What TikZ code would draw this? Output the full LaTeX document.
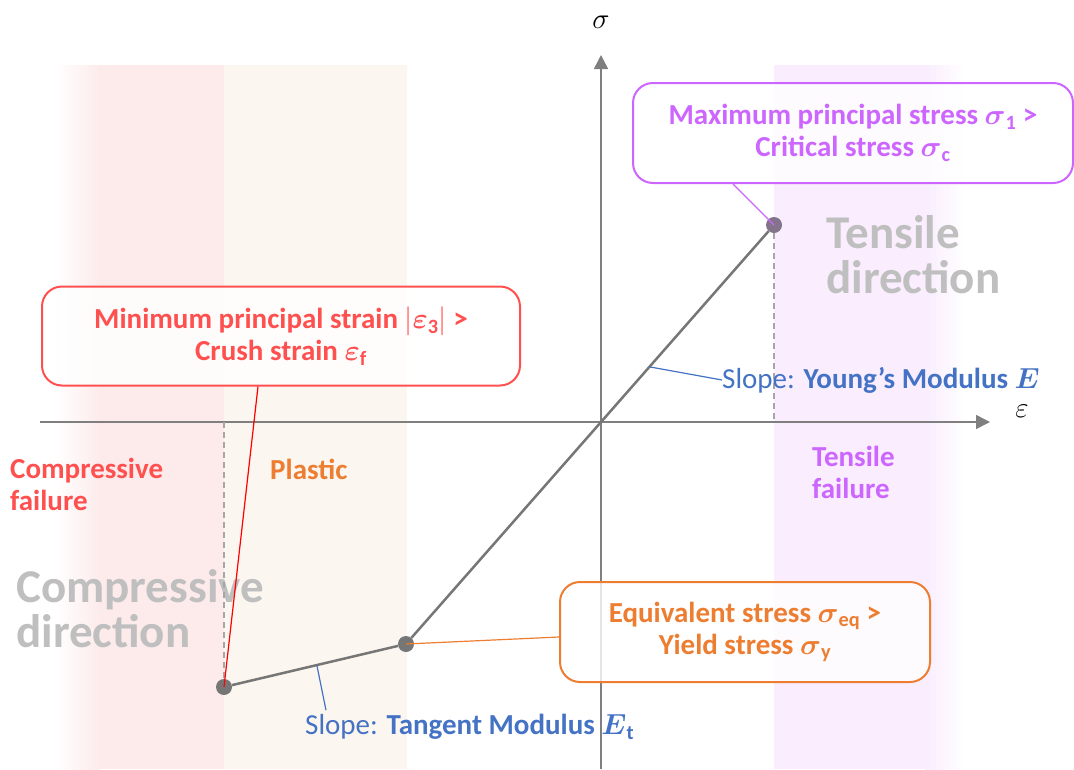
\RequirePackage{fix-cm}
\documentclass[tikz,border=0pt]{standalone}
\usepackage{amsmath}
\usepackage{fontspec}
\setmainfont{Carlito}
\usetikzlibrary{arrows.meta,positioning,calc}
\definecolor{failred}{RGB}{255,80,80}
\definecolor{yieldorange}{RGB}{237,125,49}
\definecolor{tensviolet}{RGB}{204,102,255}
\definecolor{slopeblue}{RGB}{68,114,196}
\definecolor{taggray}{RGB}{191,191,191}
\definecolor{dashgray}{RGB}{166,166,166}
\definecolor{axisgray}{RGB}{127,127,127}
\definecolor{curvegray}{RGB}{118,118,118}
\definecolor{compzone}{RGB}{253,235,235}
\definecolor{plastzone}{RGB}{251,246,240}
\definecolor{tenszone}{RGB}{249,237,254}
\tikzset{node font={\fontsize{29}{32}\selectfont}}
\tikzset{every node/.append style={transform shape=false}}

\begin{document}
\begin{tikzpicture}[x=1pt,y=-1pt,
  callout/.style={draw,line width=2pt,rounded corners=20pt,fill=white,
    fill opacity=.8,text opacity=1,align=center,font=\bfseries,inner sep=0pt},
  dot/.style={circle,fill=curvegray,inner sep=0pt,minimum size=16pt},
  axis/.style={draw=axisgray,line width=1.5pt,-{Triangle[width=14pt,length=14pt]}},
  limit/.style={draw=dashgray,line width=2pt,dash pattern=on 6pt off 4pt},
  zonetag/.style={font=\bfseries,align=left,anchor=west,inner sep=0pt},
  bigtag/.style={text=taggray,font=\fontsize{47}{45}\selectfont\bfseries,
    align=left,anchor=west,inner sep=0pt},
  slopetag/.style={text=slopeblue,anchor=west,inner sep=0pt},
  leader/.style={line width=1.2pt}]
  \useasboundingbox (0,0) rectangle (1074,769);
  % zones
  \fill[compzone] (100,65) rectangle (224,769);
  \shade[left color=white,right color=compzone] (55,65) rectangle (100,769);
  \fill[plastzone] (224,65) rectangle (407,769);
  \fill[tenszone] (774,65) rectangle (925,769);
  \shade[left color=tenszone,right color=white] (925,65) rectangle (965,769);
  % axes
  \coordinate (O) at (601,422);
  \coordinate (xstart) at (40,422);
  \coordinate (xend) at (990,422);
  \coordinate (ystart) at (601,769);
  \coordinate (yend) at (601,55);
  \draw[axis] (xstart) -- (xend);
  \draw[axis] (ystart) -- (yend);
  \node[inner sep=0pt] (sig) at (601,22) {$\sigma$};
  \node[inner sep=0pt] (eps) at (1022,411) {$\varepsilon$};
  % zone names
  \node[bigtag] (tensdir) at (826,255) {Tensile\\direction};
  \node[bigtag] (compdir) at (16,609) {Compressive\\direction};
  \node[zonetag,text=failred] (compfail) at (10,484) {Compressive\\failure};
  \node[zonetag,text=yieldorange] (plast) at (270,469) {Plastic};
  \node[zonetag,text=tensviolet] (tensfail) at (812,472) {Tensile\\failure};
  % stress-strain curve
  \node[dot] (A) at (224,687) {};
  \node[dot] (B) at (406,644) {};
  \node[dot,fill=curvegray!85!tensviolet] (C) at (774,225) {};
  \draw[limit] (C) -- (C |- O);
  \draw[limit] (A |- O) -- (A);
  \draw[curvegray,line width=2.5pt] (A) -- (B) -- (O) -- (C);
  % slopes
  \node[slopetag] (young) at (722,380)
    {Slope: \textbf{Young's Modulus $\boldsymbol{E}$}};
  \node[slopetag] (tangent) at (305,727)
    {Slope: \textbf{Tangent Modulus $\boldsymbol{E}_{\mathbf{t}}$}};
  \draw[leader,slopeblue] (young.west) -- ($(O)!0.28!(C)$);
  \draw[leader,slopeblue] ([xshift=21pt,yshift=4pt]tangent.north west) -- ($(A)!0.51!(B)$);
  % failure criteria
  \node[callout,draw=failred,text=failred,minimum width=478pt,minimum height=99pt]
    (crush) at (281,336) {Minimum principal strain $|\boldsymbol{\varepsilon}_{\mathbf{3}}|$ >\\
    Crush strain $\boldsymbol{\varepsilon}_{\mathbf{f}}$};
  \node[callout,draw=tensviolet,text=tensviolet,minimum width=440pt,minimum height=100pt]
    (crit) at (853,133) {Maximum principal stress $\boldsymbol{\sigma}_{\mathbf{1}}$ >\\
    Critical stress $\boldsymbol{\sigma}_{\mathbf{c}}$};
  \node[callout,draw=yieldorange,text=yieldorange,minimum width=370pt,minimum height=100pt]
    (yield) at (745,632) {Equivalent stress $\boldsymbol{\sigma}_{\mathbf{eq}}$ >\\
    Yield stress $\boldsymbol{\sigma}_{\mathbf{y}}$};
  \draw[leader,red] ([xshift=-23pt]crush.south) -- (A.center);
  \draw[leader,tensviolet] ([xshift=-120pt]crit.south) -- (C.center);
  \draw[leader,yieldorange] ([yshift=-5pt]yield.west) -- (B.center);
\end{tikzpicture}
\end{document}
